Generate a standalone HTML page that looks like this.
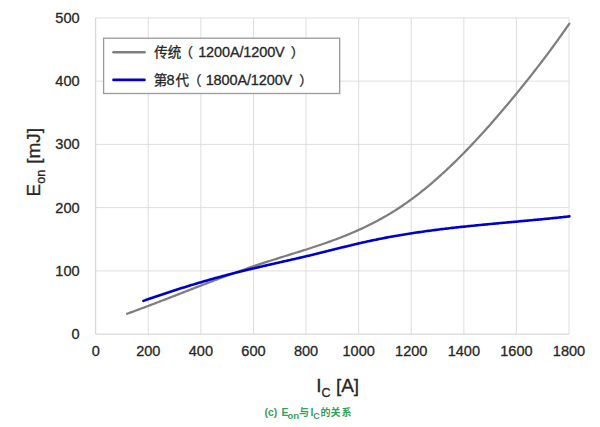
<!DOCTYPE html>
<html><head><meta charset="utf-8"><style>
html,body{margin:0;padding:0;background:#fff;}
body{width:600px;height:427px;overflow:hidden;}
svg{display:block;}
.t{font-family:"Liberation Sans","Noto Sans CJK SC",sans-serif;}
</style></head><body>
<svg width="600" height="427" viewBox="0 0 600 427">
<rect width="600" height="427" fill="#fff"/>
<g stroke="#dedede" stroke-width="1" fill="none">
<line x1="148.29" y1="17.90" x2="148.29" y2="334.10"/>
<line x1="200.88" y1="17.90" x2="200.88" y2="334.10"/>
<line x1="253.47" y1="17.90" x2="253.47" y2="334.10"/>
<line x1="306.06" y1="17.90" x2="306.06" y2="334.10"/>
<line x1="358.65" y1="17.90" x2="358.65" y2="334.10"/>
<line x1="411.24" y1="17.90" x2="411.24" y2="334.10"/>
<line x1="463.83" y1="17.90" x2="463.83" y2="334.10"/>
<line x1="516.42" y1="17.90" x2="516.42" y2="334.10"/>
<line x1="569.01" y1="17.90" x2="569.01" y2="334.10"/>
<line x1="95.70" y1="270.86" x2="569.01" y2="270.86"/>
<line x1="95.70" y1="207.62" x2="569.01" y2="207.62"/>
<line x1="95.70" y1="144.38" x2="569.01" y2="144.38"/>
<line x1="95.70" y1="81.14" x2="569.01" y2="81.14"/>
<line x1="95.70" y1="17.90" x2="569.01" y2="17.90"/>
</g>
<g stroke="#cfcfcf" stroke-width="1" fill="none">
<line x1="95.70" y1="17.90" x2="95.70" y2="334.10"/>
<line x1="95.70" y1="334.10" x2="569.01" y2="334.10"/>
</g>
<path d="M127.10,313.76 L128.60,313.21 L130.10,312.67 L131.60,312.12 L133.10,311.57 L134.60,311.02 L136.10,310.47 L137.60,309.91 L139.10,309.36 L140.60,308.80 L142.10,308.24 L143.60,307.68 L145.10,307.11 L146.60,306.55 L148.10,305.98 L149.60,305.41 L151.10,304.84 L152.60,304.27 L154.10,303.70 L155.60,303.12 L157.10,302.55 L158.60,301.97 L160.10,301.40 L161.60,300.82 L163.10,300.24 L164.60,299.66 L166.10,299.08 L167.60,298.50 L169.10,297.92 L170.60,297.34 L172.10,296.75 L173.60,296.17 L175.10,295.59 L176.60,295.00 L178.10,294.42 L179.60,293.84 L181.10,293.25 L182.60,292.67 L184.10,292.08 L185.60,291.50 L187.10,290.92 L188.60,290.33 L190.10,289.75 L191.60,289.17 L193.10,288.58 L194.60,288.00 L196.10,287.42 L197.60,286.84 L199.10,286.26 L200.60,285.68 L202.10,285.10 L203.60,284.52 L205.10,283.95 L206.60,283.37 L208.10,282.80 L209.60,282.22 L211.10,281.65 L212.60,281.08 L214.10,280.51 L215.60,279.94 L217.10,279.38 L218.60,278.81 L220.10,278.25 L221.60,277.69 L223.10,277.13 L224.60,276.57 L226.10,276.01 L227.60,275.46 L229.10,274.90 L230.60,274.35 L232.10,273.80 L233.60,273.26 L235.10,272.71 L236.60,272.17 L238.10,271.63 L239.60,271.10 L241.10,270.56 L242.60,270.03 L244.10,269.50 L245.60,268.97 L247.10,268.45 L248.60,267.93 L250.10,267.41 L251.60,266.90 L253.10,266.39 L254.60,265.88 L256.10,265.37 L257.60,264.87 L259.10,264.37 L260.60,263.87 L262.10,263.38 L263.60,262.89 L265.10,262.41 L266.60,261.92 L268.10,261.44 L269.60,260.96 L271.10,260.49 L272.60,260.01 L274.10,259.54 L275.60,259.07 L277.10,258.60 L278.60,258.13 L280.10,257.66 L281.60,257.20 L283.10,256.73 L284.60,256.27 L286.10,255.80 L287.60,255.34 L289.10,254.87 L290.60,254.41 L292.10,253.94 L293.60,253.48 L295.10,253.01 L296.60,252.54 L298.10,252.07 L299.60,251.60 L301.10,251.13 L302.60,250.66 L304.10,250.18 L305.60,249.71 L307.10,249.23 L308.60,248.74 L310.10,248.26 L311.60,247.77 L313.10,247.28 L314.60,246.79 L316.10,246.29 L317.60,245.79 L319.10,245.28 L320.60,244.78 L322.10,244.26 L323.60,243.75 L325.10,243.22 L326.60,242.70 L328.10,242.17 L329.60,241.63 L331.10,241.09 L332.60,240.54 L334.10,239.99 L335.60,239.43 L337.10,238.86 L338.60,238.29 L340.10,237.72 L341.60,237.13 L343.10,236.54 L344.60,235.94 L346.10,235.34 L347.60,234.73 L349.10,234.11 L350.60,233.48 L352.10,232.84 L353.60,232.20 L355.10,231.55 L356.60,230.89 L358.10,230.22 L359.60,229.54 L361.10,228.86 L362.60,228.16 L364.10,227.46 L365.60,226.74 L367.10,226.02 L368.60,225.28 L370.10,224.54 L371.60,223.78 L373.10,223.02 L374.60,222.24 L376.10,221.45 L377.60,220.66 L379.10,219.85 L380.60,219.02 L382.10,218.19 L383.60,217.35 L385.10,216.49 L386.60,215.62 L388.10,214.74 L389.60,213.85 L391.10,212.94 L392.60,212.02 L394.10,211.09 L395.60,210.14 L397.10,209.19 L398.60,208.21 L400.10,207.23 L401.60,206.22 L403.10,205.21 L404.60,204.18 L406.10,203.14 L407.60,202.08 L409.10,201.00 L410.60,199.92 L412.10,198.82 L413.60,197.70 L415.10,196.57 L416.60,195.43 L418.10,194.27 L419.60,193.10 L421.10,191.92 L422.60,190.72 L424.10,189.51 L425.60,188.29 L427.10,187.05 L428.60,185.80 L430.10,184.54 L431.60,183.27 L433.10,181.98 L434.60,180.68 L436.10,179.36 L437.60,178.04 L439.10,176.70 L440.60,175.35 L442.10,173.99 L443.60,172.62 L445.10,171.23 L446.60,169.84 L448.10,168.43 L449.60,167.01 L451.10,165.57 L452.60,164.13 L454.10,162.68 L455.60,161.21 L457.10,159.74 L458.60,158.25 L460.10,156.75 L461.60,155.24 L463.10,153.72 L464.60,152.19 L466.10,150.65 L467.60,149.10 L469.10,147.54 L470.60,145.97 L472.10,144.39 L473.60,142.80 L475.10,141.20 L476.60,139.59 L478.10,137.97 L479.60,136.34 L481.10,134.70 L482.60,133.06 L484.10,131.40 L485.60,129.73 L487.10,128.06 L488.60,126.38 L490.10,124.68 L491.60,122.98 L493.10,121.27 L494.60,119.56 L496.10,117.83 L497.60,116.09 L499.10,114.35 L500.60,112.60 L502.10,110.84 L503.60,109.08 L505.10,107.30 L506.60,105.52 L508.10,103.73 L509.60,101.94 L511.10,100.13 L512.60,98.32 L514.10,96.50 L515.60,94.68 L517.10,92.85 L518.60,91.01 L520.10,89.16 L521.60,87.31 L523.10,85.45 L524.60,83.58 L526.10,81.71 L527.60,79.83 L529.10,77.94 L530.60,76.04 L532.10,74.13 L533.60,72.22 L535.10,70.30 L536.60,68.36 L538.10,66.42 L539.60,64.47 L541.10,62.51 L542.60,60.55 L544.10,58.57 L545.60,56.58 L547.10,54.58 L548.60,52.57 L550.10,50.55 L551.60,48.52 L553.10,46.48 L554.60,44.43 L556.10,42.37 L557.60,40.30 L559.10,38.21 L560.60,36.12 L562.10,34.01 L563.60,31.89 L565.10,29.76 L566.60,27.61 L568.10,25.46 L569.40,23.58" fill="none" stroke="#7e7e7e" stroke-width="2.25" stroke-linecap="round" stroke-linejoin="round"/>
<path d="M143.40,300.89 L144.90,300.36 L146.40,299.83 L147.90,299.31 L149.40,298.78 L150.90,298.26 L152.40,297.74 L153.90,297.23 L155.40,296.71 L156.90,296.20 L158.40,295.69 L159.90,295.18 L161.40,294.68 L162.90,294.18 L164.40,293.68 L165.90,293.18 L167.40,292.68 L168.90,292.19 L170.40,291.70 L171.90,291.21 L173.40,290.73 L174.90,290.24 L176.40,289.76 L177.90,289.28 L179.40,288.81 L180.90,288.33 L182.40,287.86 L183.90,287.39 L185.40,286.93 L186.90,286.46 L188.40,286.00 L189.90,285.54 L191.40,285.09 L192.90,284.63 L194.40,284.18 L195.90,283.73 L197.40,283.28 L198.90,282.84 L200.40,282.40 L201.90,281.96 L203.40,281.52 L204.90,281.09 L206.40,280.65 L207.90,280.22 L209.40,279.80 L210.90,279.37 L212.40,278.95 L213.90,278.53 L215.40,278.12 L216.90,277.70 L218.40,277.29 L219.90,276.88 L221.40,276.47 L222.90,276.07 L224.40,275.67 L225.90,275.27 L227.40,274.87 L228.90,274.48 L230.40,274.09 L231.90,273.70 L233.40,273.31 L234.90,272.93 L236.40,272.55 L237.90,272.17 L239.40,271.79 L240.90,271.42 L242.40,271.05 L243.90,270.68 L245.40,270.32 L246.90,269.95 L248.40,269.59 L249.90,269.23 L251.40,268.87 L252.90,268.52 L254.40,268.17 L255.90,267.81 L257.40,267.46 L258.90,267.11 L260.40,266.77 L261.90,266.42 L263.40,266.07 L264.90,265.73 L266.40,265.39 L267.90,265.04 L269.40,264.70 L270.90,264.36 L272.40,264.02 L273.90,263.68 L275.40,263.34 L276.90,263.00 L278.40,262.66 L279.90,262.32 L281.40,261.98 L282.90,261.64 L284.40,261.31 L285.90,260.97 L287.40,260.62 L288.90,260.28 L290.40,259.94 L291.90,259.60 L293.40,259.26 L294.90,258.91 L296.40,258.57 L297.90,258.22 L299.40,257.87 L300.90,257.52 L302.40,257.17 L303.90,256.82 L305.40,256.47 L306.90,256.11 L308.40,255.76 L309.90,255.40 L311.40,255.04 L312.90,254.67 L314.40,254.31 L315.90,253.94 L317.40,253.58 L318.90,253.21 L320.40,252.84 L321.90,252.47 L323.40,252.09 L324.90,251.72 L326.40,251.35 L327.90,250.97 L329.40,250.60 L330.90,250.22 L332.40,249.85 L333.90,249.48 L335.40,249.10 L336.90,248.73 L338.40,248.36 L339.90,247.99 L341.40,247.61 L342.90,247.24 L344.40,246.88 L345.90,246.51 L347.40,246.14 L348.90,245.78 L350.40,245.42 L351.90,245.06 L353.40,244.70 L354.90,244.34 L356.40,243.99 L357.90,243.64 L359.40,243.29 L360.90,242.94 L362.40,242.60 L363.90,242.26 L365.40,241.92 L366.90,241.59 L368.40,241.26 L369.90,240.94 L371.40,240.62 L372.90,240.30 L374.40,239.98 L375.90,239.67 L377.40,239.37 L378.90,239.07 L380.40,238.77 L381.90,238.47 L383.40,238.18 L384.90,237.89 L386.40,237.61 L387.90,237.32 L389.40,237.05 L390.90,236.77 L392.40,236.50 L393.90,236.23 L395.40,235.97 L396.90,235.71 L398.40,235.45 L399.90,235.19 L401.40,234.94 L402.90,234.69 L404.40,234.44 L405.90,234.20 L407.40,233.96 L408.90,233.72 L410.40,233.49 L411.90,233.26 L413.40,233.03 L414.90,232.80 L416.40,232.58 L417.90,232.36 L419.40,232.14 L420.90,231.92 L422.40,231.71 L423.90,231.50 L425.40,231.29 L426.90,231.08 L428.40,230.88 L429.90,230.68 L431.40,230.48 L432.90,230.28 L434.40,230.09 L435.90,229.90 L437.40,229.71 L438.90,229.52 L440.40,229.33 L441.90,229.15 L443.40,228.97 L444.90,228.78 L446.40,228.61 L447.90,228.43 L449.40,228.25 L450.90,228.08 L452.40,227.91 L453.90,227.74 L455.40,227.57 L456.90,227.41 L458.40,227.24 L459.90,227.08 L461.40,226.91 L462.90,226.75 L464.40,226.59 L465.90,226.44 L467.40,226.28 L468.90,226.13 L470.40,225.97 L471.90,225.82 L473.40,225.67 L474.90,225.52 L476.40,225.37 L477.90,225.22 L479.40,225.07 L480.90,224.92 L482.40,224.78 L483.90,224.63 L485.40,224.49 L486.90,224.34 L488.40,224.20 L489.90,224.06 L491.40,223.92 L492.90,223.78 L494.40,223.64 L495.90,223.50 L497.40,223.36 L498.90,223.22 L500.40,223.08 L501.90,222.95 L503.40,222.81 L504.90,222.67 L506.40,222.53 L507.90,222.40 L509.40,222.26 L510.90,222.12 L512.40,221.99 L513.90,221.85 L515.40,221.71 L516.90,221.58 L518.40,221.44 L519.90,221.30 L521.40,221.16 L522.90,221.03 L524.40,220.89 L525.90,220.75 L527.40,220.61 L528.90,220.47 L530.40,220.33 L531.90,220.19 L533.40,220.05 L534.90,219.91 L536.40,219.77 L537.90,219.63 L539.40,219.48 L540.90,219.34 L542.40,219.20 L543.90,219.05 L545.40,218.90 L546.90,218.76 L548.40,218.61 L549.90,218.46 L551.40,218.31 L552.90,218.15 L554.40,218.00 L555.90,217.85 L557.40,217.69 L558.90,217.54 L560.40,217.38 L561.90,217.22 L563.40,217.06 L564.90,216.89 L566.40,216.73 L567.90,216.57 L569.40,216.40" fill="none" stroke="#0000cc" stroke-width="2.6" stroke-linecap="round" stroke-linejoin="round"/>
<rect x="103.6" y="38.2" width="236.1" height="55.3" fill="#fff" stroke="#9a9a9a" stroke-width="1.3"/>
<line x1="113.5" y1="52.2" x2="144.5" y2="52.2" stroke="#7e7e7e" stroke-width="2.6" stroke-linecap="round"/>
<line x1="113.5" y1="79.9" x2="144.5" y2="79.9" stroke="#0000cc" stroke-width="2.6" stroke-linecap="round"/>
<g class="t" font-size="14.5" fill="#262626" stroke="#262626" stroke-width="0.3">
<text x="154.2" y="57.3" font-size="13.5">传统</text>
<text x="179.5" y="57.3" font-size="13.5">（</text>
<text x="198.2" y="57.3" font-size="14.5" letter-spacing="-0.13">1200A/1200V</text>
<text x="290.8" y="57.3" font-size="13.5">）</text>
<text x="153.7" y="84.8" font-size="13.5">第</text>
<text x="166.6" y="84.7" font-size="14.5">8</text>
<text x="175.5" y="84.8" font-size="13.5">代</text>
<text x="188.1" y="84.8" font-size="13.5">（</text>
<text x="205.7" y="84.7" font-size="14.5" letter-spacing="-0.13">1800A/1200V</text>
<text x="299.3" y="84.8" font-size="13.5">）</text>
</g>
<g class="t" font-size="15" fill="#262626" stroke="#262626" stroke-width="0.3">
<text transform="translate(79.6,339.00) scale(0.97,1.03)" text-anchor="end">0</text>
<text transform="translate(79.6,275.76) scale(0.97,1.03)" text-anchor="end">100</text>
<text transform="translate(79.6,212.52) scale(0.97,1.03)" text-anchor="end">200</text>
<text transform="translate(79.6,149.28) scale(0.97,1.03)" text-anchor="end">300</text>
<text transform="translate(79.6,86.04) scale(0.97,1.03)" text-anchor="end">400</text>
<text transform="translate(79.6,22.80) scale(0.97,1.03)" text-anchor="end">500</text>
<text transform="translate(95.70,356.2) scale(0.97,1.03)" text-anchor="middle">0</text>
<text transform="translate(148.29,356.2) scale(0.97,1.03)" text-anchor="middle">200</text>
<text transform="translate(200.88,356.2) scale(0.97,1.03)" text-anchor="middle">400</text>
<text transform="translate(253.47,356.2) scale(0.97,1.03)" text-anchor="middle">600</text>
<text transform="translate(306.06,356.2) scale(0.97,1.03)" text-anchor="middle">800</text>
<text transform="translate(358.65,356.2) scale(0.97,1.03)" text-anchor="middle">1000</text>
<text transform="translate(411.24,356.2) scale(0.97,1.03)" text-anchor="middle">1200</text>
<text transform="translate(463.83,356.2) scale(0.97,1.03)" text-anchor="middle">1400</text>
<text transform="translate(516.42,356.2) scale(0.97,1.03)" text-anchor="middle">1600</text>
<text transform="translate(569.01,356.2) scale(0.97,1.03)" text-anchor="middle">1800</text>
</g>
<g class="t" fill="#262626" font-size="19" stroke="#262626" stroke-width="0.3">
<text transform="translate(39.8,196.5) rotate(-90)">E<tspan font-size="12.5" dy="5.0">on</tspan><tspan dy="-5.0" dx="0.8"> [mJ]</tspan></text>
<text x="316.3" y="391.7">I<tspan font-size="12.5" dy="5.0">C</tspan><tspan dy="-5.0"> [A]</tspan></text>
</g>
<g class="t" font-weight="bold" fill="#35a060">
<text x="264.5" y="416.3" font-size="10.5">(c)</text>
<text x="281.6" y="416.3" font-size="10.5">E</text>
<text x="287.5" y="419" font-size="9.5">on</text>
<text x="299" y="416.3" font-size="10">与</text>
<text x="310.5" y="416.3" font-size="10.5">I</text>
<text x="313.2" y="419" font-size="9">C</text>
<text x="320.5" y="416.3" font-size="10">的</text>
<text x="330.5" y="416.3" font-size="10">关</text>
<text x="341.5" y="416.3" font-size="10">系</text>
</g>
</svg>
</body></html>
